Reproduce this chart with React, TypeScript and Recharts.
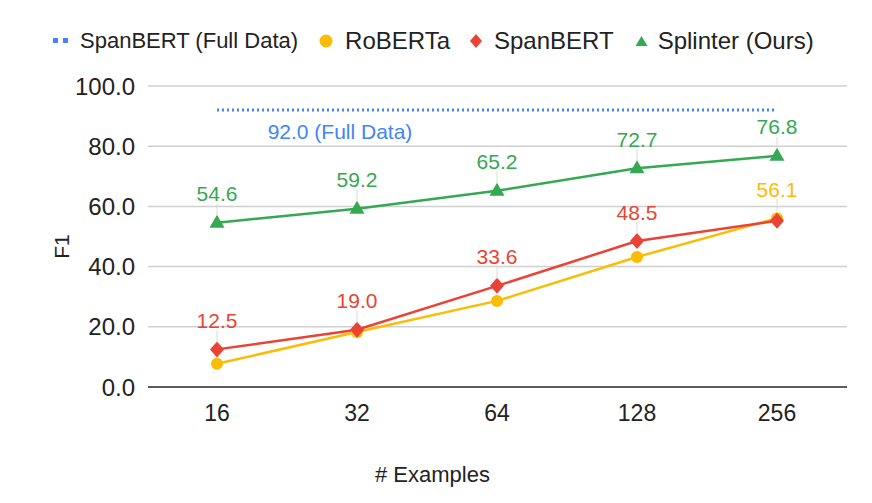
import React from 'react';
import { LineChart, Line, XAxis, YAxis, CartesianGrid, LabelList, Label } from 'recharts';

const categories = ['16', '32', '64', '128', '256'];
const fullData = [92.0, 92.0, 92.0, 92.0, 92.0];
const roberta = [7.7, 18.3, 28.6, 43.2, 56.1];
const spanbert = [12.5, 19.0, 33.6, 48.5, 55.2];
const splinter = [54.6, 59.2, 65.2, 72.7, 76.8];
const robertaLabeled = [false, false, false, false, true];
const spanbertLabeled = [true, true, true, true, false];
const splinterLabeled = [true, true, true, true, true];
const yTicks = [0, 20, 40, 60, 80, 100];

const BLUE = '#4285F4';
const YELLOW = '#FBBC04';
const RED = '#EA4335';
const GREEN = '#34A853';
const FONT = '"Liberation Sans", Arial, sans-serif';

const data = categories.map((c, i) => ({
  n: c,
  full: fullData[i],
  roberta: roberta[i],
  spanbert: spanbert[i],
  splinter: splinter[i],
}));

const makeLabel = (color: string, show: boolean[]) => (props: any) => {
  const { x, y, index, value } = props;
  if (!show[index] || x == null || y == null) return null;
  return (
    <g>
      <line x1={x} x2={x} y1={y - 19} y2={y - 7} stroke="#d9d9d9" strokeWidth={1} />
      <text x={x} y={y - 29} textAnchor="middle" dominantBaseline="central" fill={color} fontSize={21} fontFamily={FONT}>
        {Number(value).toFixed(1)}
      </text>
    </g>
  );
};

const fullLabel = (props: any) => {
  const { x, y, index, value } = props;
  if (index !== 1) return null;
  return (
    <text x={x - 17} y={y + 21} textAnchor="middle" dominantBaseline="central" fill={BLUE} fontSize={21} fontFamily={FONT}>
      {Number(value).toFixed(1)} (Full Data)
    </text>
  );
};

const circleDot = (props: any) => {
  const { cx, cy, index } = props;
  return <circle key={'c' + index} cx={cx} cy={cy} r={6} fill={YELLOW} />;
};
const diamondDot = (props: any) => {
  const { cx, cy, index } = props;
  return (
    <polygon key={'d' + index} points={`${cx},${cy - 8} ${cx + 7},${cy} ${cx},${cy + 8} ${cx - 7},${cy}`} fill={RED} />
  );
};
const triangleDot = (props: any) => {
  const { cx, cy, index } = props;
  return (
    <polygon key={'t' + index} points={`${cx},${cy - 8} ${cx + 7.5},${cy + 5} ${cx - 7.5},${cy + 5}`} fill={GREEN} />
  );
};

const LegendOverlay = () => {
  const item = (icon: React.ReactNode, text: string, size: number, gapIcon: number, gapAfter: number) => (
    <div style={{ display: 'flex', alignItems: 'center', marginRight: gapAfter }}>
      {icon}
      <span style={{ marginLeft: gapIcon, fontSize: size }}>{text}</span>
    </div>
  );
  return (
    <div
      style={{
        position: 'absolute',
        left: 53,
        top: 27,
        display: 'flex',
        alignItems: 'center',
        fontFamily: FONT,
        color: '#222',
        lineHeight: '28px',
        whiteSpace: 'nowrap',
      }}
    >
      {item(
        <svg width={16} height={6}>
          <rect x={0} y={0} width={5} height={5} fill={BLUE} />
          <rect x={10} y={0} width={5} height={5} fill={BLUE} />
        </svg>,
        'SpanBERT (Full Data)',
        22,
        11,
        21
      )}
      {item(
        <svg width={14} height={14}>
          <circle cx={7} cy={7} r={6.5} fill={YELLOW} />
        </svg>,
        'RoBERTa',
        24,
        12,
        19
      )}
      {item(
        <svg width={14} height={16}>
          <polygon points="7,1 13,8 7,15 1,8" fill={RED} />
        </svg>,
        'SpanBERT',
        24,
        11,
        21
      )}
      {item(
        <svg width={13} height={12}>
          <polygon points="6.5,1 12.5,11 0.5,11" fill={GREEN} />
        </svg>,
        'Splinter (Ours)',
        24,
        10,
        0
      )}
    </div>
  );
};

export default function App() {
  return (
    <div style={{ position: 'absolute', left: 0, top: 0, width: 872, height: 503, background: '#fff' }}>
      <LineChart width={872} height={503} data={data} margin={{ top: 86, right: 25, left: 0, bottom: 56 }}>
        <CartesianGrid vertical={false} stroke="#d0d0d0" strokeWidth={1.5} />
        <XAxis
          dataKey="n"
          padding={{ left: 69, right: 70 }}
          axisLine={{ stroke: '#333', strokeWidth: 1.5 }}
          tickLine={false}
          tickSize={6}
          tickMargin={12}
          height={60}
          tick={{ fill: '#222', fontSize: 23, fontFamily: FONT }}
        >
          <Label
            value="# Examples"
            position="insideBottom"
            offset={0}
            dx={-65}
            dy={35}
            style={{ fill: '#222', fontSize: 22, fontFamily: FONT }}
          />
        </XAxis>
        <YAxis
          width={148}
          domain={[0, 100]}
          ticks={yTicks}
          tickFormatter={(v: number) => v.toFixed(1)}
          axisLine={false}
          tickLine={false}
          tickSize={6}
          tickMargin={7}
          tick={{ fill: '#222', fontSize: 24, fontFamily: FONT }}
        >
          <Label
            value="F1"
            angle={-90}
            position="insideLeft"
            offset={62}
            dy={10}
            style={{ fill: '#222', fontSize: 21, fontFamily: FONT, textAnchor: 'middle' }}
          />
        </YAxis>
        <Line
          dataKey="full"
          stroke={BLUE}
          strokeWidth={3}
          strokeDasharray="2 3"
          dot={false}
          activeDot={false}
          isAnimationActive={false}
        >
          <LabelList dataKey="full" content={fullLabel} />
        </Line>
        <Line dataKey="roberta" stroke={YELLOW} strokeWidth={2.5} dot={circleDot} activeDot={false} isAnimationActive={false}>
          <LabelList dataKey="roberta" content={makeLabel(YELLOW, robertaLabeled)} />
        </Line>
        <Line dataKey="spanbert" stroke={RED} strokeWidth={2.5} dot={diamondDot} activeDot={false} isAnimationActive={false}>
          <LabelList dataKey="spanbert" content={makeLabel(RED, spanbertLabeled)} />
        </Line>
        <Line dataKey="splinter" stroke={GREEN} strokeWidth={2.5} dot={triangleDot} activeDot={false} isAnimationActive={false}>
          <LabelList dataKey="splinter" content={makeLabel(GREEN, splinterLabeled)} />
        </Line>
      </LineChart>
      <LegendOverlay />
    </div>
  );
}
